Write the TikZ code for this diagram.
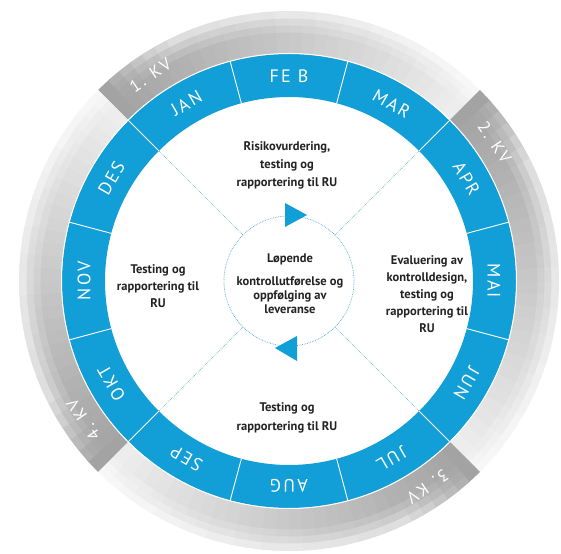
\documentclass[tikz,border=0pt]{standalone}
\usepackage{fontspec}
\setmainfont{PT Sans}
\newfontfamily\monthf[LetterSpace=12]{PT Sans}
\definecolor{ringblue}{RGB}{18,158,214}
\definecolor{dotc}{RGB}{80,175,205}
\definecolor{txt}{RGB}{35,35,35}
\begin{document}
\begin{tikzpicture}[x=1pt,y=1pt,
  month/.style={text=white, font=\monthf\fontsize{18}{18}\selectfont, inner sep=0pt},
  kv/.style={text=white, font=\monthf\fontsize{17}{17}\selectfont, inner sep=0pt},
  info/.style={align=center, text=txt, inner sep=0pt, font=\bfseries\fontsize{12.5}{17}\selectfont},
  dotline/.style={dotc, densely dotted, line width=0.7pt},
  tri/.style={fill=ringblue, draw=none}]
\useasboundingbox (-289,-272) rectangle (272,281);
\fill[white] (-289,-272) rectangle (272,281);
% gray quarter ribbons
\foreach \s in {135,45,-45,-135}{
  \foreach \i in {0,...,29}{
    \pgfmathsetmacro\aa{\s-3*\i}
    \pgfmathsetmacro\ab{max(\s-90,\s-3*\i-3.4)}
    \pgfmathsetmacro\t{\i/29}
    \pgfmathsetmacro\k{36-29*\t}
    \pgfmathsetmacro\g{min(1,\t*5)}
    \pgfmathtruncatemacro\ka{\k}
    \pgfmathtruncatemacro\kb{\k*(1-0.12*\g)}
    \pgfmathtruncatemacro\kc{\k*(1-0.3*\g)}
    \pgfmathtruncatemacro\kd{\k*(1-0.55*\g)}
    \fill[black!\ka] (\aa:226pt) arc[start angle=\aa,end angle=\ab,radius=226pt] -- (\ab:249pt) arc[start angle=\ab,end angle=\aa,radius=249pt] -- cycle;
    \fill[black!\kb] (\aa:248.5pt) arc[start angle=\aa,end angle=\ab,radius=248.5pt] -- (\ab:256pt) arc[start angle=\ab,end angle=\aa,radius=256pt] -- cycle;
    \fill[black!\kc] (\aa:255.5pt) arc[start angle=\aa,end angle=\ab,radius=255.5pt] -- (\ab:263pt) arc[start angle=\ab,end angle=\aa,radius=263pt] -- cycle;
    \fill[black!\kd] (\aa:262.5pt) arc[start angle=\aa,end angle=\ab,radius=262.5pt] -- (\ab:270pt) arc[start angle=\ab,end angle=\aa,radius=270pt] -- cycle;
  }
}
% blue month ring
\fill[ringblue, even odd rule] (0,0) circle[radius=227pt] (0,0) circle[radius=184pt];
\draw[white, line width=1pt] (0,0) circle[radius=227.5pt];
\foreach \a in {15,45,...,345} \draw[white, line width=0.9pt] (\a:184pt) -- (\a:227pt);
\foreach \m/\a [count=\n] in {JAN/120, FE B/90, MAR/60, APR/30, MAI/0, JUN/-30, JUL/-60, AUG/-90, SEP/-120, OKT/-150, NOV/180, DES/150}
  \node[month, rotate=\a-90] (m\n) at (\a:205pt) {\m};
% quarter labels
\foreach \q/\a [count=\n] in {1. KV/124, 2. KV/34, 3. KV/-56, 4. KV/-146}
  \node[kv, rotate=\a-90] (kv\n) at (\a:248pt) {\q};
% hub and dotted spokes
\node[circle, draw=dotc, densely dotted, line width=0.7pt, minimum size=130pt, inner sep=0pt] (hub) at (0,0) {};
\foreach \a in {45,135,225,315}{
  \coordinate (r\a) at (\a:184pt);
  \draw[dotline] (hub.\a) -- (r\a);
}
\fill[tri] (-4,78) -- (-4,54) -- (18,66) -- cycle;
\fill[tri] (8,-55) -- (8,-80) -- (-14,-67) -- cycle;
% texts
\node[info, font=\bfseries\fontsize{12.5}{14}\selectfont] (center) at (1,-3) {Løpende\\[9pt]kontrollutførelse og\\oppfølging av\\leveranse};
\node[info, font=\bfseries\fontsize{12.5}{18}\selectfont] (top) at (-2,116) {Risikovurdering,\\testing og\\rapportering til RU};
\node[info] (right) at (138,-13) {Evaluering av\\kontrolldesign,\\testing og\\rapportering til\\RU};
\node[info] (left) at (-131,-5) {Testing og\\rapportering til\\RU};
\node[info, font=\bfseries\fontsize{12.5}{19}\selectfont] (bottom) at (-2,-137) {Testing og\\rapportering til RU};
\end{tikzpicture}
\end{document}
